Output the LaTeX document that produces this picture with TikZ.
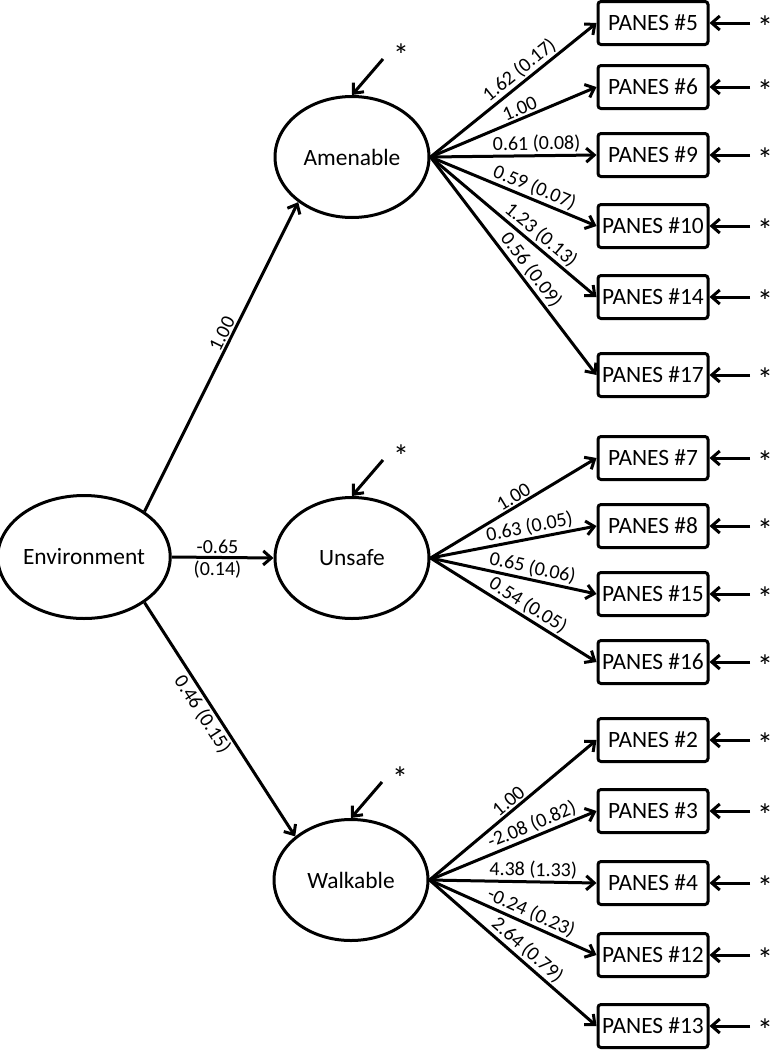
\documentclass[tikz,border=0pt]{standalone}
\usepackage{fontspec}
\setmainfont{Carlito}
\usetikzlibrary{arrows.meta,shapes.geometric}

\tikzset{
  latent/.style={draw, ellipse, line width=1.5pt, inner sep=0pt,
    minimum width=77pt, minimum height=60.5pt, font=\fontsize{11.7}{13}\selectfont},
  panes/.style={draw, rounded corners=1.5pt, line width=1.5pt, inner sep=0pt,
    minimum width=55pt, minimum height=21.5pt, font=\fontsize{11.7}{13}\selectfont},
  load/.style={line width=1.5pt, -{Straight Barb[length=4pt,width=7pt]}},
  coef/.style={sloped, above, inner sep=0.8pt, font=\fontsize{10}{11}\selectfont},
  err/.style={inner sep=0pt, font=\fontsize{16}{16}\selectfont}
}

\begin{document}
\begin{tikzpicture}[x=0.5pt,y=-0.5pt]
    \useasboundingbox (0,0) rectangle (772,1050);
    % latent variables
    \node[latent, minimum width=82pt, minimum height=61.5pt] (env) at (84,557) {Environment};
    \node[latent] (amen) at (352,157) {Amenable};
    \node[latent] (unsafe) at (352,558) {Unsafe};
    \node[latent] (walk) at (351,880) {Walkable};
    \draw[load] (env.37) -- node[coef, pos=0.56] {1.00} (amen.220);
    \draw[load] (env.east) -- node[above, inner sep=1pt, font=\fontsize{10}{11}\selectfont, pos=0.45] {-0.65}
      node[below, inner sep=1pt, font=\fontsize{10}{11}\selectfont, pos=0.45] {(0.14)} (unsafe.west);
    \draw[load] (env.-37) -- node[coef, below, pos=0.45] {0.46 (0.15)} (walk.142);
    % disturbances
    \foreach \f in {amen,unsafe,walk} {
      \coordinate (d\f) at ([shift={(31,-36)}]\f.north);
      \node[err] (s\f) at ([shift={(49,-40)}]\f.north) {*};
      \draw[load] (d\f) -- (\f.north);
    }
    % indicators
    \foreach \n/\y/\src/\c/\p in {
        5/23/amen/{1.62 (0.17)}/0.58, 6/87/amen/{1.00}/0.56, 9/155/amen/{0.61 (0.08)}/0.64,
        10/226/amen/{0.59 (0.07)}/0.6, 14/297/amen/{1.23 (0.13)}/0.62, 17/375/amen/{0.56 (0.09)}/0.55,
        7/458/unsafe/{1.00}/0.53, 8/526/unsafe/{0.63 (0.05)}/0.61,
        15/594/unsafe/{0.65 (0.06)}/0.6, 16/662/unsafe/{0.54 (0.05)}/0.55,
        2/740/walk/{1.00}/0.51, 3/811/walk/{-2.08 (0.82)}/0.64, 4/883/walk/{4.38 (1.33)}/0.62,
        12/955/walk/{-0.24 (0.23)}/0.58, 13/1026/walk/{2.64 (0.79)}/0.54} {
      \node[panes] (p\n) at (653,\y) {PANES \#\n};
      \coordinate (e\n) at (750,\y);
      \node[err] (s\n) at (765,\y+4) {*};
      \draw[load] (\src.east) -- node[coef, pos=\p] {\c} (p\n.west);
      \draw[load] (e\n) -- (p\n.east);
    }
\end{tikzpicture}
\end{document}
